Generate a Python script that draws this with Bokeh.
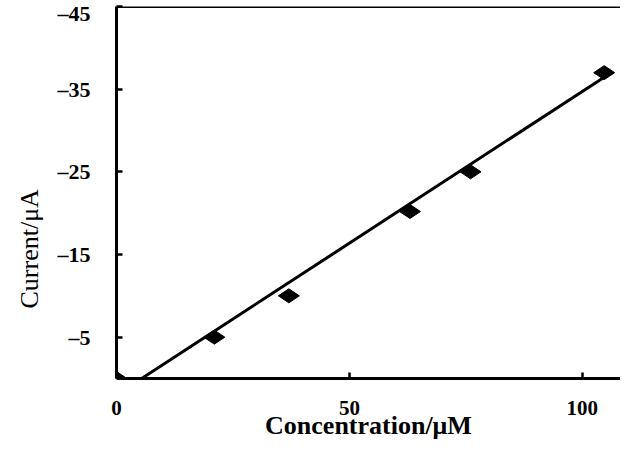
from bokeh.plotting import figure
from bokeh.models import Range1d, FixedTicker, Span, Title
from bokeh.embed import file_html
from bokeh.resources import INLINE
import math

# data
concentration = [0, 21, 37, 63, 76, 104.7]
current = [0, -5, -10, -20.2, -25, -37]
fit_slope = -0.367
fit_intercept = 1.98
fit_x_range = [5.4, 104.7]

x_ticks = [0, 50, 100]
x_tick_labels = ["0", "50", "100"]
y_ticks = [-5, -15, -25, -35, -45]
y_tick_labels = ["\u20135", "\u201315", "\u201325", "\u201335", "\u201345"]
x_title = "Concentration/\u03bcM"
y_title = "Current/\u03bcA"

fit_y = [fit_slope * x + fit_intercept for x in fit_x_range]

p = figure(width=620, height=445, output_backend="svg", toolbar_location=None,
           x_range=Range1d(0, 108.2), y_range=Range1d(0, -45),
           min_border_left=116, min_border_right=0, min_border_top=6,
           min_border_bottom=67)
p.outline_line_color = None
p.xgrid.visible = False
p.ygrid.visible = False
p.background_fill_color = "white"
p.border_fill_color = "white"

p.line(fit_x_range, fit_y, line_color="black", line_width=3)
p.scatter(concentration, current, marker="diamond", size=21, angle=math.pi / 2,
          fill_color="black", line_color="black")

p.add_layout(Span(location=-45, dimension="width", line_color="black", line_width=3))

for ax in (p.xaxis[0], p.yaxis[0]):
    ax.axis_line_width = 3
    ax.axis_line_color = "black"
    ax.major_tick_line_width = 2.5
    ax.major_tick_in = 6
    ax.major_tick_out = 0
    ax.minor_tick_line_color = None
    ax.major_label_text_font = "Liberation Serif"
    ax.major_label_text_font_style = "bold"
    ax.major_label_text_font_size = "21px"
    ax.major_label_text_color = "black"
    ax.axis_label_text_font = "Liberation Serif"
    ax.axis_label_text_color = "black"

p.xaxis.ticker = FixedTicker(ticks=x_ticks)
p.xaxis.major_label_overrides = dict(zip(x_ticks, x_tick_labels))
p.xaxis.major_label_standoff = 22
p.xaxis.axis_label = x_title
p.xaxis.axis_label_text_font_style = "bold"
p.xaxis.axis_label_text_font_size = "26px"
p.xaxis.axis_label_standoff = -7

p.yaxis.ticker = FixedTicker(ticks=y_ticks)
p.yaxis.major_label_overrides = dict(zip(y_ticks, y_tick_labels))
p.yaxis.major_label_text_font_size = "22px"
p.yaxis.major_label_standoff = 26

p.add_layout(Title(text=y_title, align="left", offset=70, standoff=21,
                   text_font="Liberation Serif", text_font_style="normal",
                   text_font_size="26px", text_color="black"), "left")

open("out.html", "w").write(file_html(p, INLINE))
